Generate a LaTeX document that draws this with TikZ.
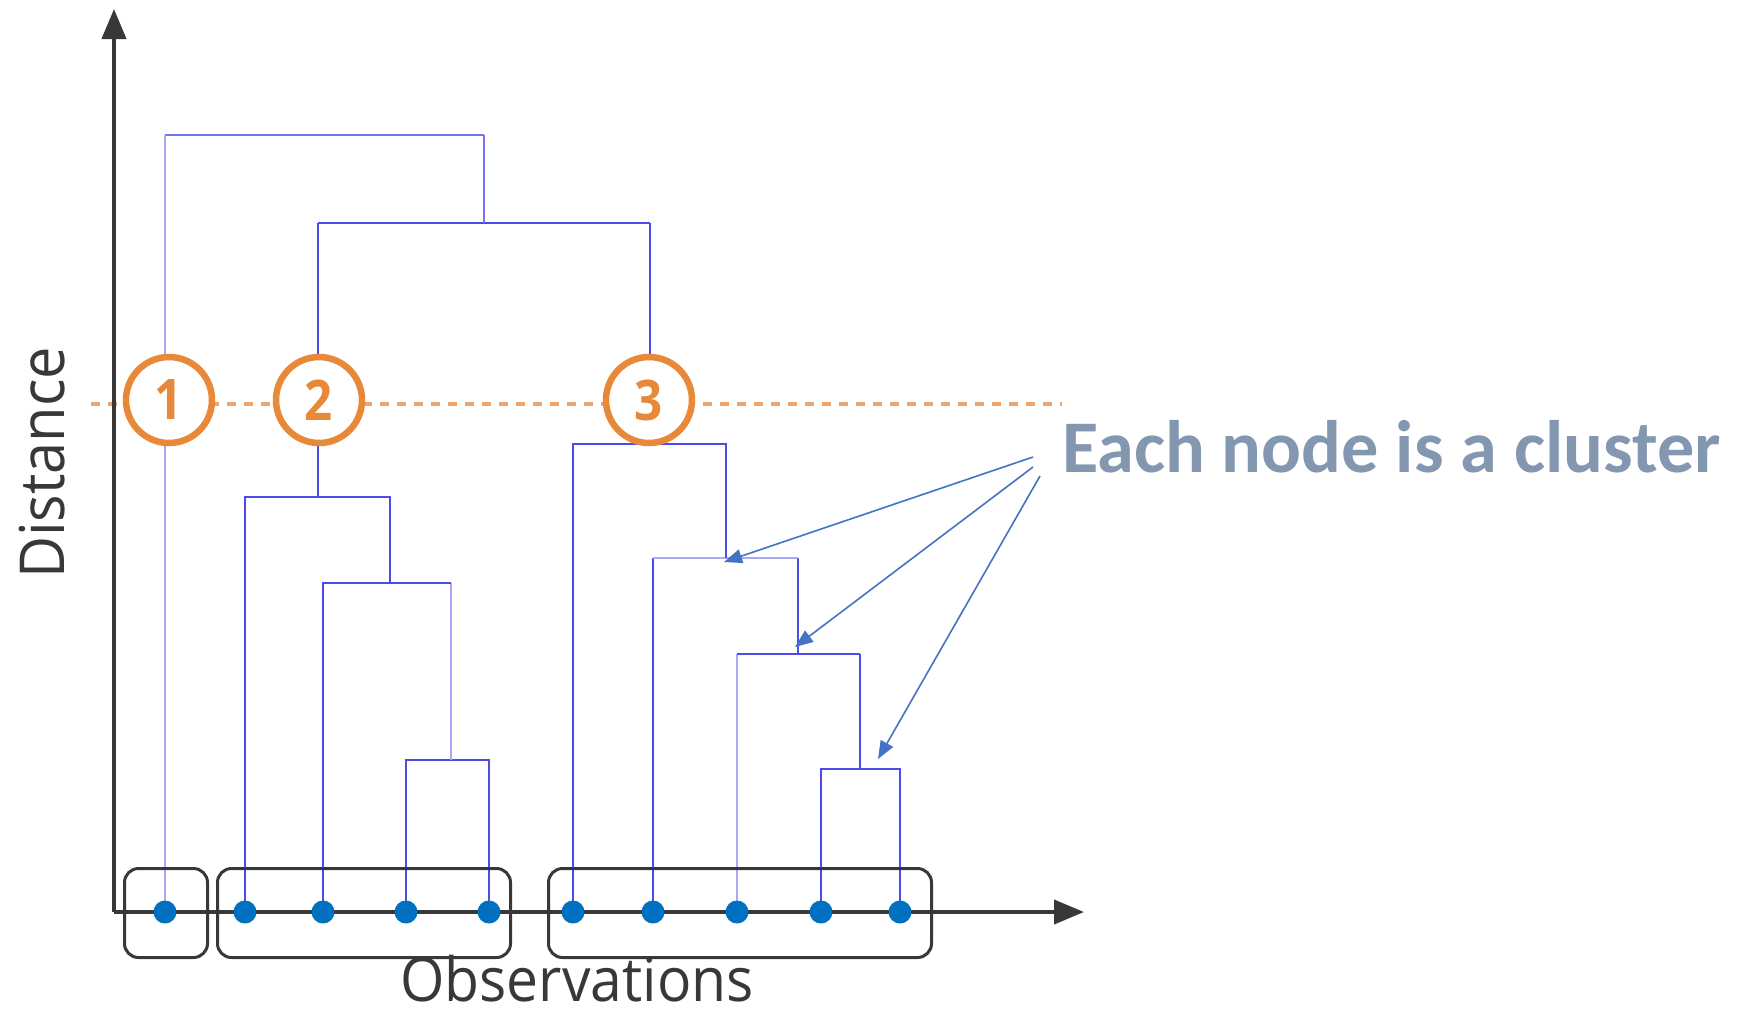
\documentclass[tikz,border=0pt]{standalone}
\usepackage{fontspec}
\usepackage{graphicx}
\setmainfont{Open Sans}
\newfontfamily\calfont{Carlito}
\usetikzlibrary{arrows.meta}

\definecolor{dendro}{HTML}{4B4BEE}
\definecolor{dendromid}{HTML}{7373F3}
\definecolor{dendrolight}{HTML}{A8A8F8}
\definecolor{cutorange}{HTML}{E8893A}
\definecolor{cutdash}{HTML}{EFA56B}
\definecolor{axisgray}{HTML}{383838}
\definecolor{leafblue}{HTML}{0070C0}
\definecolor{notegray}{HTML}{8497B0}
\definecolor{noteblue}{HTML}{4472C4}

\begin{document}
\begin{tikzpicture}[x=1pt,y=-1pt,
  link/.style={draw=dendro,line width=2.6pt},
  linkmid/.style={draw=dendromid,line width=2.2pt},
  linklight/.style={draw=dendrolight,line width=2.6pt},
  leaf/.style={circle,fill=leafblue,minimum size=23pt,inner sep=0pt},
  cutmark/.style={circle,draw=cutorange,fill=white,line width=6.5pt,minimum size=86pt,
    inner sep=0pt,text=cutorange,font=\bfseries\fontsize{56}{60}\selectfont},
  groupbox/.style={draw=axisgray,line width=3pt,rounded corners=14pt,minimum height=89pt,inner sep=0pt},
  axisline/.style={draw=axisgray,line width=4pt,-{Triangle[length=30pt,width=24pt]}},
  pointer/.style={draw=noteblue,line width=1.6pt,-{Triangle[length=18pt,width=14pt]}}
]
\useasboundingbox (0,0) rectangle (1759,1013);

% cut level
\coordinate (cutL) at (91,404);
\coordinate (cutR) at (1062,404);
\draw[cutdash,line width=4pt,dash pattern=on 9pt off 8pt] (cutL) -- (cutR);

% leaves
\foreach \i/\x in {1/165,2/245,3/323,4/406,5/489,6/573,7/653,8/737,9/821,10/900}
  \coordinate (P\i) at (\x,912);

% merge points of the dendrogram
\coordinate (A) at (451,760);
\coordinate (B) at (390,583);
\coordinate (C) at (318,497);
\coordinate (D) at (860,769);
\coordinate (E) at (798,654);
\coordinate (F) at (726,558);
\coordinate (G) at (650,444);
\coordinate (H) at (484,223);
\coordinate (R) at (300,135);

% left branch
\draw[link] (P4) |- (A) -| (P5);
\draw[linklight] (A) -- (A |- B);
\draw[link] (P3) |- (B) -- (A |- B);
\draw[link] (P2) |- (C) -| (B);
\draw[link] (C) -- (C |- H);

% right branch
\draw[link] (P9) |- (D) -| (P10);
\draw[link] (D) -- (D |- E);
\draw[linklight] (P8) -- (P8 |- E);
\draw[link] (P8 |- E) -- (D |- E);
\draw[link] (E) -- (E |- F);
\draw[link] (P7) -- (P7 |- F);
\draw[linklight] (P7 |- F) -- (E |- F);
\draw[link] (F) -- (F |- G);
\draw[link] (P6) |- (G) -| (F);
\draw[link] (G) -- (G |- H);
\draw[link] (C |- H) -- (G |- H);

% root
\draw[linkmid] (H) -- (H |- R);
\draw[linkmid] (P1 |- R) -- (H |- R);
\draw[linklight] (P1) -- (P1 |- R);

% cluster markers on the cut
\node[cutmark] (k1) at (169,400) {\scalebox{0.88}[1]{1}};
\node[cutmark] (k2) at (319,400) {\scalebox{0.88}[1]{2}};
\node[cutmark] (k3) at (649,400) {\scalebox{0.88}[1]{3}};

% axes
\coordinate (O) at (114,912);
\coordinate (ytip) at (114,9);
\coordinate (xtip) at (1084,912);
\draw[axisline] (O) -- (ytip);
\draw[axisline] (O) -- (xtip);

% cluster groups
\node[groupbox,minimum width=83pt] (g1) at (166,913) {};
\node[groupbox,minimum width=293pt] (g2) at (364,913) {};
\node[groupbox,minimum width=383pt] (g3) at (740,913) {};

% observation points
\foreach \i in {1,...,10}
  \node[leaf] (L\i) at (P\i) {};

% axis labels
\node[inner sep=0pt,text=axisgray,font=\fontsize{61}{66}\selectfont] (xlab) at (577,979) {\scalebox{0.935}[1]{Observations}};
\node[inner sep=0pt,text=axisgray,font=\fontsize{62}{70}\selectfont,rotate=90] (ylab) at (42,463) {\scalebox{0.93}[1]{Distance}};

% annotation
\node[anchor=base west,inner sep=0pt,text=notegray,font=\calfont\bfseries\fontsize{74.3}{80}\selectfont] (note) at (1062,472) {Each node is a cluster};
\coordinate (s1) at (1033,457);
\coordinate (s2) at (1033,467);
\coordinate (s3) at (1040,476);
\coordinate (t1) at (724,562);
\coordinate (t2) at (795,647);
\coordinate (t3) at (878,759);
\draw[pointer] (s1) -- (t1);
\draw[pointer] (s2) -- (t2);
\draw[pointer] (s3) -- (t3);
\end{tikzpicture}
\end{document}
